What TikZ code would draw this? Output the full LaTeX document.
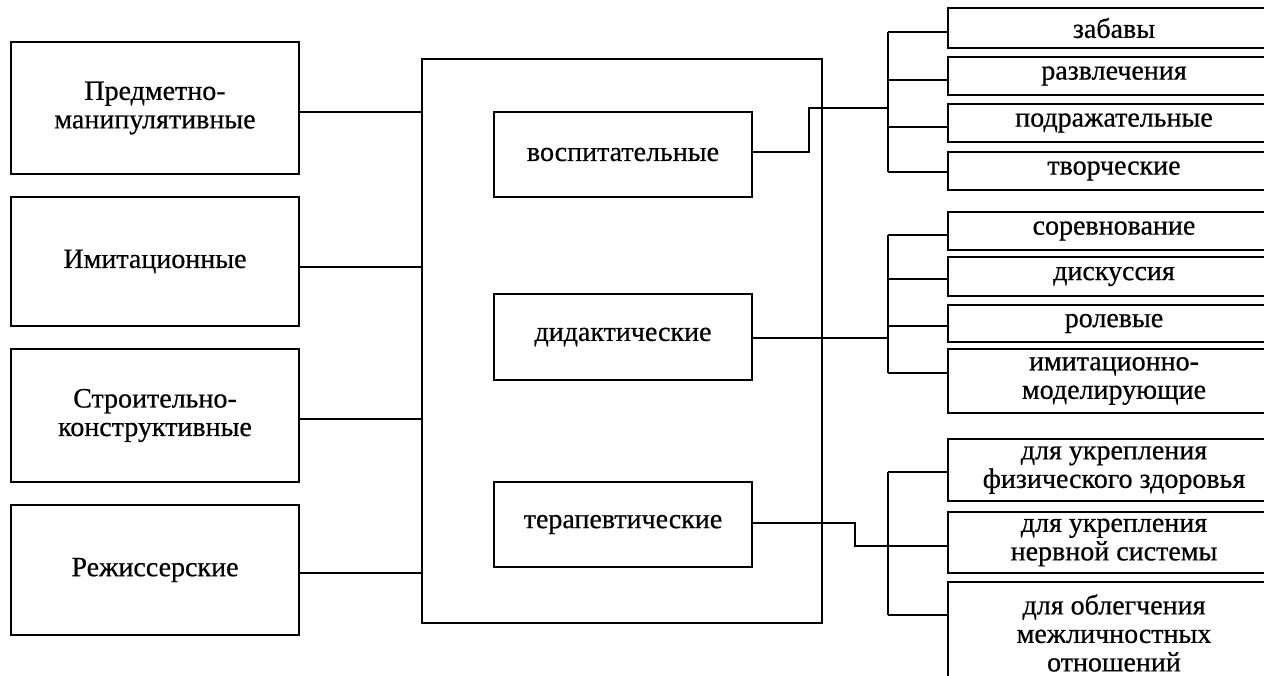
\documentclass[tikz,border=0pt]{standalone}
\usepackage{fontspec}
\setmainfont{Liberation Serif}[BoldFont=Liberation Serif, BoldFeatures={FakeBold=0.6}]
\begin{document}
\begin{tikzpicture}[x=1pt,y=-1pt,
  box/.style={draw, line width=2.6pt, inner sep=0pt, align=center,
    font=\fontsize{28}{28.5}\selectfont\bfseries},
  conn/.style={line width=1.8pt}]
\useasboundingbox (0,0) rectangle (1264,676);
% left boxes
\node[box, minimum width=288pt, minimum height=132pt] (lb1) at (155,108) {Предметно-\\манипулятивные};
\node[box, minimum width=288pt, minimum height=129pt] (lb2) at (155,261.5) {Имитационные};
\node[box, minimum width=288pt, minimum height=133pt] (lb3) at (155,415.5) {Строительно-\\конструктивные};
\node[box, minimum width=288pt, minimum height=130pt] (lb4) at (155,570) {Режиссерские};
% central box
\node[box, minimum width=400pt, minimum height=564pt] (big) at (622,341) {};
\node[box, minimum width=258pt, minimum height=85pt] (ib1) at (623,154.5) {воспитательные};
\node[box, minimum width=258pt, minimum height=86pt] (ib2) at (623,337) {дидактические};
\node[box, minimum width=258pt, minimum height=85pt] (ib3) at (623,524.5) {терапевтические};
% right boxes
\node[box, minimum width=332pt, minimum height=40pt] (r11) at (1114,28) {забавы};
\node[box, minimum width=332pt, minimum height=38pt] (r12) at (1114,76) {развлечения};
\node[box, minimum width=332pt, minimum height=38pt] (r13) at (1114,123) {подражательные};
\node[box, minimum width=332pt, minimum height=38pt] (r14) at (1114,171) {творческие};
\node[box, minimum width=332pt, minimum height=38pt] (r21) at (1114,231) {соревнование};
\node[box, minimum width=332pt, minimum height=39pt] (r22) at (1114,276.5) {дискуссия};
\node[box, minimum width=332pt, minimum height=37pt] (r23) at (1114,323.5) {ролевые};
\node[box, minimum width=332pt, minimum height=64pt] (r24) at (1114,381) {имитационно-\\моделирующие};
\node[box, minimum width=332pt, minimum height=62pt] (r31) at (1114,470) {для укрепления\\физического здоровья};
\node[box, minimum width=332pt, minimum height=61pt] (r32) at (1114,542.5) {для укрепления\\нервной системы};
\node[box, minimum width=332pt, minimum height=102pt] (r33) at (1114,633) {для облегчения\\межличностных\\отношений};
% left connectors
\draw[conn] (lb1.east |- 0,112) -- (big.west |- 0,112);
\draw[conn] (lb2.east |- 0,267) -- (big.west |- 0,267);
\draw[conn] (lb3.east |- 0,419) -- (big.west |- 0,419);
\draw[conn] (lb4.east |- 0,573) -- (big.west |- 0,573);
% trunk coordinates
\coordinate (t1a) at (888,32);
\coordinate (t1b) at (888,80);
\coordinate (t1c) at (888,127);
\coordinate (t1d) at (888,172);
\coordinate (t1in) at (888,108);
\coordinate (t2a) at (888,235);
\coordinate (t2b) at (888,279);
\coordinate (t2c) at (888,326);
\coordinate (t2d) at (888,373);
\coordinate (t2in) at (888,338);
\coordinate (t3a) at (888,472);
\coordinate (t3b) at (888,546);
\coordinate (t3c) at (888,615);
% group 1
\draw[conn] (ib1.east |- 0,152) -- (809,152) -- (809,108) -- (t1in);
\draw[conn] (t1a) -- (t1d);
\foreach \t/\r in {t1a/r11, t1b/r12, t1c/r13, t1d/r14}
  \draw[conn] (\t) -- (\r.west |- \t);
% group 2
\draw[conn] (ib2.east |- t2in) -- (t2in);
\draw[conn] (t2a) -- (t2d);
\foreach \t/\r in {t2a/r21, t2b/r22, t2c/r23, t2d/r24}
  \draw[conn] (\t) -- (\r.west |- \t);
% group 3
\draw[conn] (ib3.east |- 0,523) -- (855,523) -- (855,546) -- (t3b);
\draw[conn] (t3a) -- (t3c);
\foreach \t/\r in {t3a/r31, t3b/r32, t3c/r33}
  \draw[conn] (\t) -- (\r.west |- \t);
\end{tikzpicture}
\end{document}
